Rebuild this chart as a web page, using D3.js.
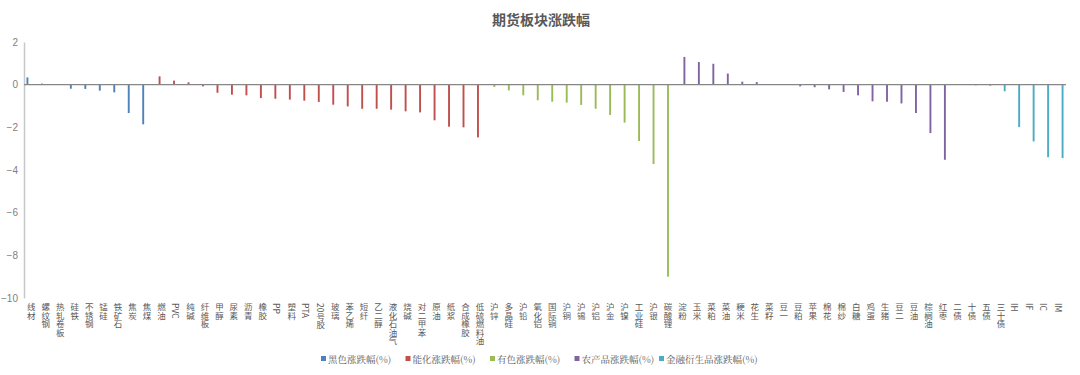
<!DOCTYPE html>
<html>
<head>
<meta charset="utf-8">
<script src="https://cdn.jsdelivr.net/npm/d3@7"></script>
<style>
	body { margin: 0; background: #fff; }
	text { font-family: "Noto Sans CJK SC", "Noto Sans", sans-serif; }
</style>
</head>
<body>
<div id="chart"></div>
<script>
// 各板块品种与涨跌幅(%)
var blackNames = ["线材", "螺纹钢", "热轧卷板", "硅铁", "不锈钢", "锰硅", "铁矿石", "焦炭", "焦煤"];
var blackValues = [0.34, 0.05, 0.01, -0.19, -0.2, -0.28, -0.36, -1.33, -1.86];

var energyNames = ["燃油", "PVC", "纯碱", "纤维板", "甲醇", "尿素", "沥青", "橡胶", "PP", "塑料", "PTA", "20号胶",
	"玻璃", "苯乙烯", "短纤", "乙二醇", "液化石油气", "烧碱", "对二甲苯", "原油", "纸浆", "合成橡胶", "低硫燃料油"];
var energyValues = [0.39, 0.19, 0.11, -0.08, -0.38, -0.47, -0.5, -0.63, -0.66, -0.7, -0.75, -0.81,
	-0.94, -1.02, -1.13, -1.13, -1.17, -1.25, -1.3, -1.67, -1.97, -2.0, -2.47];

var metalNames = ["沪锌", "多晶硅", "沪铅", "氧化铝", "国际铜", "沪铜", "沪锡", "沪铝", "沪金", "沪镍", "工业硅", "沪银", "碳酸锂"];
var metalValues = [-0.11, -0.27, -0.5, -0.73, -0.8, -0.84, -0.95, -1.13, -1.42, -1.78, -2.64, -3.72, -9.0];

var agriNames = ["淀粉", "玉米", "菜粕", "菜油", "粳米", "花生", "菜籽", "豆一", "豆粕", "苹果", "棉花", "棉纱",
	"白糖", "鸡蛋", "生猪", "豆二", "豆油", "棕榈油", "红枣"];
var agriValues = [1.3, 1.06, 0.98, 0.52, 0.14, 0.12, 0, 0, -0.08, -0.12, -0.22, -0.34,
	-0.5, -0.78, -0.8, -0.88, -1.33, -2.27, -3.52];

var finNames = ["二债", "十债", "五债", "三十债", "IH", "IF", "IC", "IM"];
var finValues = [0, -0.03, -0.05, -0.31, -1.99, -2.66, -3.4, -3.44];

var seriesNames = ["黑色涨跌幅(%)", "能化涨跌幅(%)", "有色涨跌幅(%)", "农产品涨跌幅(%)", "金融衍生品涨跌幅(%)"];
var seriesColors = ["#4F81BD", "#C0504D", "#9BBB59", "#8064A2", "#4BACC6"];
var yTicks = [2, 0, -2, -4, -6, -8, -10];

var groups = [
	[blackNames, blackValues],
	[energyNames, energyValues],
	[metalNames, metalValues],
	[agriNames, agriValues],
	[finNames, finValues]
];

var data = [];
groups.forEach(function(g, s) {
	for (var i = 0; i < g[0].length; i++) {
		data.push({name: g[0][i], value: g[1][i], series: seriesNames[s], color: seriesColors[s]});
	}
});

var svgWidth = 1080;
var svgHeight = 375;
var margin = {top: 42, right: 14, bottom: 77, left: 24};

var svg = d3.select("#chart")
	.append("svg")
	.attr("width", svgWidth)
	.attr("height", svgHeight);

var x0 = d3.scaleBand()
	.domain(data.map(function(d) { return d.name; }))
	.range([margin.left, svgWidth - margin.right]);

var x1 = d3.scaleBand()
	.domain(seriesNames)
	.range([0, x0.bandwidth()])
	.paddingOuter(1.3);

var y = d3.scaleLinear()
	.domain([-10, 2])
	.range([svgHeight - margin.bottom, margin.top]);

// 标题
svg.append("text")
	.attr("x", 541)
	.attr("y", 25)
	.attr("text-anchor", "middle")
	.attr("font-size", 14)
	.attr("font-weight", "bold")
	.attr("fill", "#595959")
	.text("期货板块涨跌幅");

// y 轴
var yAxis = svg.append("g")
	.attr("transform", "translate(" + margin.left + ",0)")
	.call(d3.axisLeft(y).tickValues(yTicks).tickSize(0).tickPadding(6));
yAxis.select(".domain").attr("stroke", "#c8c8c8").attr("stroke-width", 1.5);
yAxis.selectAll("text")
	.attr("fill", "#7f7f7f")
	.attr("font-size", 10)
	.style("font-family", "Arial, 'Liberation Sans', sans-serif");

// 柱子
svg.selectAll(".bar")
	.data(data)
	.enter().append("rect")
	.attr("class", "bar")
	.attr("x", function(d) { return x0(d.name) + x1(d.series); })
	.attr("width", x1.bandwidth())
	.attr("y", function(d) { return y(Math.max(0, d.value)); })
	.attr("height", function(d) { return Math.abs(y(d.value) - y(0)); })
	.attr("fill", function(d) { return d.color; });

// 零线
svg.append("line")
	.attr("x1", margin.left)
	.attr("x2", svgWidth - margin.right)
	.attr("y1", y(0))
	.attr("y2", y(0))
	.attr("stroke", "#868686")
	.attr("stroke-width", 1.2);

// 分类标签 (竖排)
svg.selectAll(".cat")
	.data(data)
	.enter().append("text")
	.attr("class", "cat")
	.attr("x", function(d) { return x0(d.name) + x0.bandwidth() / 2; })
	.attr("y", svgHeight - margin.bottom + 5)
	.attr("font-size", 8.5)
	.attr("fill", "#595959")
	.style("writing-mode", "vertical-rl")
	.text(function(d) { return d.name; });

// 图例
var legend = svg.append("g").attr("transform", "translate(0,359)");
seriesNames.forEach(function(name, i) {
	var item = legend.append("g").attr("transform", "translate(" + (321 + i * 84.5) + ",0)");
	item.append("rect")
		.attr("x", 0)
		.attr("y", -3)
		.attr("width", 5)
		.attr("height", 5)
		.attr("fill", seriesColors[i]);
	item.append("text")
		.attr("x", 7)
		.attr("y", 3.5)
		.attr("font-size", 9.5)
		.attr("fill", "#595959")
		.style("font-family", "'Noto Serif CJK SC', 'Noto Sans CJK SC', serif")
		.text(name);
});
</script>
</body>
</html>
